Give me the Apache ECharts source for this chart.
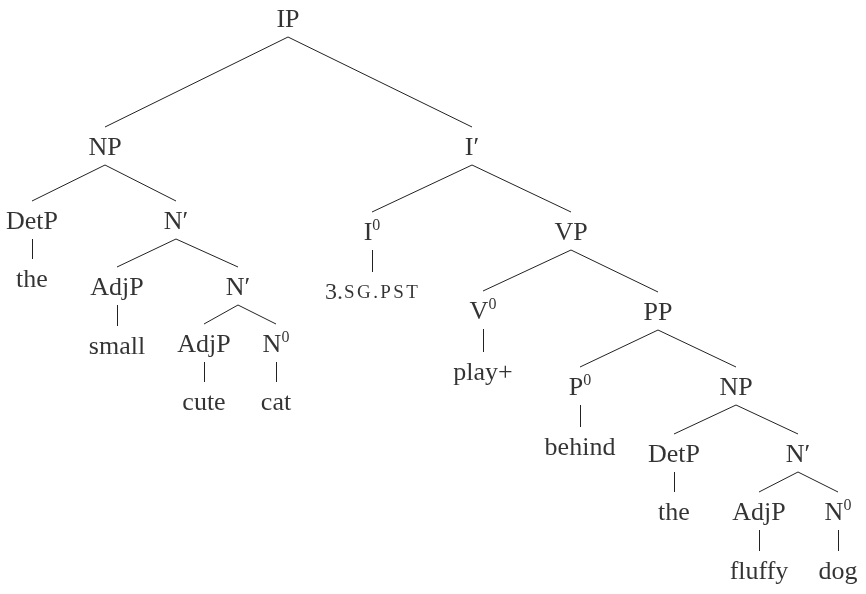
<!DOCTYPE html>
<html>
<head>
<meta charset="utf-8">
<script src="https://cdn.jsdelivr.net/npm/echarts@6/dist/echarts.min.js"></script>
<style>
  html, body { margin: 0; padding: 0; background: #fff; }
  #chart { width: 866px; height: 594px; }
</style>
</head>
<body>
<div id="chart"></div>
<script>
// node labels; "^0" marks a superscript zero, "3.SG.PST" gets small caps
const nodeLabels = ['IP', 'NP', 'I′', 'DetP', 'N′', 'the', 'AdjP', 'N′', 'small', 'AdjP',
  'N^0', 'cute', 'cat', 'I^0', 'VP', '3.SG.PST', 'V^0', 'PP', 'play+', 'P^0',
  'NP', 'behind', 'DetP', 'N′', 'the', 'AdjP', 'N^0', 'fluffy', 'dog'];
// horizontal position of each node
const nodeX = [288, 105, 472, 32, 176, 32, 117, 238, 117, 204,
  276, 204, 276, 372, 571, 372, 483, 658, 483, 580,
  736, 580, 674, 798, 674, 759, 838, 759, 838];
// text baseline of each node
const nodeY = [25, 153, 153, 227, 227, 285, 293, 293, 352, 350,
  350, 408, 408, 238, 238, 298, 317, 318, 378, 393,
  393, 453, 460, 460, 518, 518, 518, 577, 577];
// parent index of each node (-1 = root)
const parentIdx = [-1, 0, 0, 1, 1, 3, 4, 4, 6, 7,
  7, 9, 10, 2, 2, 13, 14, 14, 16, 17,
  17, 19, 20, 20, 22, 23, 23, 25, 26];

const chart = echarts.init(document.getElementById('chart'));

const nodeData = nodeLabels.map((t, i) => [nodeX[i], nodeY[i], i]);

// edge runs from just under the parent's text to just above the child's
const edgeData = [];
parentIdx.forEach((p, i) => {
  if (p < 0) return;
  edgeData.push({ coords: [[nodeX[p], nodeY[p] + 12], [nodeX[i], nodeY[i] - 26]] });
});

function fmt(params) {
  const t = nodeLabels[params.data[2]];
  if (t.indexOf('^') >= 0) {
    const parts = t.split('^');
    return '{m|' + parts[0] + '}{s|' + parts[1] + '}';
  }
  if (t === '3.SG.PST') {
    return '{n|3.}' + 'SG.PST'.split('').map(c => '{c|' + c + '}').join('');
  }
  return '{m|' + t + '}';
}

const serif = '"Liberation Serif", "Times New Roman", serif';

chart.setOption({
  animation: false,
  backgroundColor: '#ffffff',
  grid: { left: 0, right: 0, top: 0, bottom: 0 },
  xAxis: { type: 'value', min: 0, max: 866, show: false },
  yAxis: { type: 'value', min: 0, max: 594, inverse: true, show: false },
  series: [
    {
      type: 'lines',
      coordinateSystem: 'cartesian2d',
      silent: true,
      data: edgeData,
      lineStyle: { color: '#222', width: 1, opacity: 1 }
    },
    {
      type: 'scatter',
      data: nodeData,
      symbolSize: 1,
      itemStyle: { color: 'rgba(0,0,0,0)' },
      silent: true,
      label: {
        show: true,
        position: 'inside',
        offset: [0, -5],
        formatter: fmt,
        color: '#000',
        fontFamily: serif,
        rich: {
          m: { fontSize: 26, fontFamily: serif, color: '#000', lineHeight: 30 },
          s: { fontSize: 16, fontFamily: serif, color: '#000', verticalAlign: 'top', lineHeight: 16 },
          n: { fontSize: 24, fontFamily: serif, color: '#000', lineHeight: 30 },
          c: { fontSize: 19, fontFamily: serif, color: '#000', lineHeight: 30, padding: [0, 1.2, 0, 1.2] }
        }
      }
    }
  ]
});

window.addEventListener('resize', () => chart.resize());
</script>
</body>
</html>
